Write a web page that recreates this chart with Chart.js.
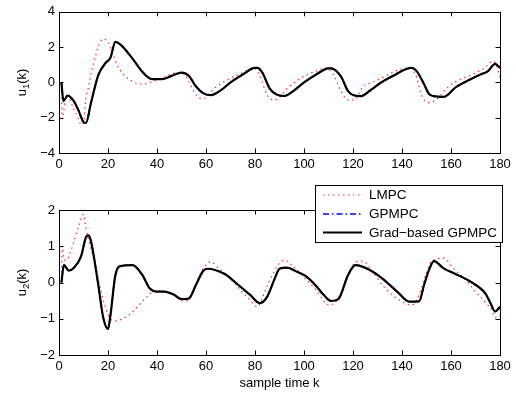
<!DOCTYPE html>
<html>
<head>
<meta charset="utf-8">
<script src="https://cdn.jsdelivr.net/npm/chart.js@4/dist/chart.umd.min.js"></script>
<style>
  body { margin: 0; background: #fff; }
  #wrap { position: relative; width: 516px; height: 397px; }
  canvas { position: absolute; left: 0; }
  #chartU1 { top: 0; }
  #chartU2 { top: 175px; }
</style>
</head>
<body>
<div id="wrap">
  <canvas id="chartU1" width="516" height="175"></canvas>
  <canvas id="chartU2" width="516" height="222"></canvas>
</div>
<script>
// u1(k): Grad-based GPMPC (GPMPC nearly identical)
const kGradU1 = [1, 1.8, 3.5, 6, 8, 10, 11, 13, 16, 19, 21, 23, 25, 30, 34, 38, 42, 46, 50, 53, 56, 59, 62, 66, 70, 75, 80, 81, 83, 86, 89, 92, 96, 100, 105, 110, 111, 115, 118, 120, 123, 127, 131, 136, 144, 146, 149, 151, 153, 157, 162, 168, 173, 175, 178, 180];
const gradU1 = [0, -1.06, -0.75, -1.05, -1.6, -2.25, -2.3, -1.2, 0.4, 1.1, 1.4, 2.3, 2.15, 1.35, 0.6, 0.18, 0.18, 0.37, 0.55, 0.37, -0.25, -0.62, -0.72, -0.45, 0.0, 0.45, 0.82, 0.82, 0.55, -0.35, -0.7, -0.77, -0.45, 0.0, 0.45, 0.8, 0.8, 0.35, -0.5, -0.72, -0.78, -0.46, -0.05, 0.35, 0.82, 0.64, -0.1, -0.65, -0.78, -0.82, -0.27, 0.18, 0.5, 0.62, 1.05, 0.82];

// u1(k): LMPC
const kLmpcU1 = [1, 1.3, 3, 4, 6, 8, 9, 10, 11, 12, 13, 15, 17, 18, 20, 22, 24, 26, 30, 34, 38, 42, 48, 50, 52, 55, 58, 60, 62, 64, 70, 75, 79, 80, 82, 85, 88, 90, 93, 98, 105, 109, 110, 112, 115, 118, 121, 124, 128, 132, 139, 143, 144, 146, 148, 151, 154, 159, 164, 169, 174, 177, 178, 180];
const lmpcU1 = [0, -2.05, -0.75, -0.85, -1.5, -2.1, -2.4, -2.3, -0.9, -0.3, 0.4, 1.55, 2.35, 2.45, 2.3, 1.6, 0.9, 0.5, 0.05, -0.1, 0.05, 0.24, 0.55, 0.55, 0.3, -0.5, -0.92, -0.85, -0.55, -0.27, 0.24, 0.55, 0.8, 0.78, 0.37, -0.73, -1.0, -0.85, -0.36, 0.18, 0.64, 0.82, 0.78, 0.46, -0.46, -1.0, -0.97, -0.24, 0.0, 0.27, 0.73, 0.82, 0.75, 0.27, -0.73, -1.15, -0.97, -0.24, 0.18, 0.46, 0.85, 1.19, 1.15, 0.27];

// u2(k): Grad-based GPMPC
const kGradU2 = [1, 2, 4, 6, 9, 11, 12, 13, 16, 18, 20, 21, 23, 25, 30, 34, 37, 40, 43, 47, 50, 53, 56, 59, 61, 64, 68, 72, 78, 82, 85, 88, 90, 93, 97, 101, 105, 108, 111, 114, 118, 121, 127, 132, 138, 143, 147, 149, 151, 153, 157, 162, 168, 174, 176, 178, 180];
const gradU2 = [0, 0.48, 0.33, 0.4, 0.72, 1.25, 1.3, 1.15, -0.05, -0.95, -1.28, -0.9, 0.2, 0.45, 0.48, 0.21, -0.16, -0.25, -0.25, -0.34, -0.46, -0.44, -0.05, 0.33, 0.38, 0.34, 0.22, 0.0, -0.34, -0.57, -0.39, 0.1, 0.38, 0.41, 0.3, 0.16, -0.1, -0.34, -0.51, -0.46, 0.21, 0.48, 0.34, 0.11, -0.25, -0.53, -0.52, -0.07, 0.34, 0.59, 0.39, 0.23, 0.02, -0.3, -0.55, -0.8, -0.67];

// u2(k): LMPC
const kLmpcU2 = [1, 1.3, 2.2, 3, 5, 6.5, 8, 10, 11, 13, 15, 17, 19, 21, 23, 26, 30, 32, 36, 39, 43, 47, 51, 53, 56, 58, 62, 65, 70, 74, 78, 81, 84, 87, 90, 92, 95, 101, 105, 110, 113, 116, 118, 121, 124, 127, 132, 136, 140, 144, 147, 149, 152, 157, 161, 166, 170, 175, 177, 178, 180];
const lmpcU2 = [0, 1.0, 0.62, 0.62, 0.9, 1.23, 1.54, 1.88, 1.5, 0.95, 0.45, -0.2, -0.7, -1.0, -1.06, -1.0, -0.82, -0.67, -0.39, -0.23, -0.25, -0.36, -0.52, -0.45, -0.05, 0.29, 0.57, 0.4, 0.12, -0.21, -0.48, -0.67, -0.25, 0.21, 0.53, 0.62, 0.48, 0.07, -0.21, -0.62, -0.53, -0.16, 0.16, 0.57, 0.59, 0.39, -0.07, -0.34, -0.53, -0.62, -0.34, 0.07, 0.57, 0.67, 0.39, 0.07, -0.25, -0.62, -0.8, -0.97, -0.9];

const seriesNames = ["LMPC", "GPMPC", "Grad\u2212based GPMPC"];
const xTicks = [0, 20, 40, 60, 80, 100, 120, 140, 160, 180];
const u1Ticks = [-4, -2, 0, 2, 4];
const u2Ticks = [-2, -1, 0, 1, 2];

const FONT = "'Liberation Sans', Arial, sans-serif";
const styles = [
  { borderColor: "#ff2a2a", borderWidth: 1.2, borderDash: [1.5, 3.5], order: 3 },
  { borderColor: "#0000ff", borderWidth: 1.5, borderDash: [6, 3, 1.5, 3], order: 2 },
  { borderColor: "#000000", borderWidth: 2.2, borderDash: [], order: 1 },
];

const pts = (ks, vs) => ks.map((k, i) => ({ x: k, y: vs[i] }));
const minus = (v) => String(v).replace("-", "\u2212");

// box, inward ticks and y label (MATLAB style)
const frame = {
  id: "frame",
  afterDraw(chart, args, opts) {
    const { ctx, chartArea: a, scales } = chart;
    const L = 4.5;
    ctx.save();
    ctx.strokeStyle = "#000";
    ctx.lineWidth = 1;
    ctx.strokeRect(Math.round(a.left) + 0.5, Math.round(a.top) + 0.5, Math.round(a.width), Math.round(a.height));
    ctx.beginPath();
    xTicks.forEach((t) => {
      const px = Math.round(scales.x.getPixelForValue(t)) + 0.5;
      ctx.moveTo(px, a.bottom); ctx.lineTo(px, a.bottom - L);
      ctx.moveTo(px, a.top); ctx.lineTo(px, a.top + L);
    });
    opts.yTicks.forEach((t) => {
      const py = Math.round(scales.y.getPixelForValue(t)) + 0.5;
      ctx.moveTo(a.left, py); ctx.lineTo(a.left + L, py);
      ctx.moveTo(a.right, py); ctx.lineTo(a.right - L, py);
    });
    ctx.stroke();

    // y label with subscript
    ctx.translate(22, (a.top + a.bottom) / 2);
    ctx.rotate(-Math.PI / 2);
    ctx.fillStyle = "#000";
    ctx.textBaseline = "middle";
    ctx.font = "13px " + FONT;
    const w1 = ctx.measureText("u").width;
    const w3 = ctx.measureText("(k)").width;
    ctx.font = "9.5px " + FONT;
    const w2 = ctx.measureText(opts.sub).width;
    const x0 = -(w1 + w2 + w3) / 2;
    ctx.font = "13px " + FONT;
    ctx.fillText("u", x0, 0);
    ctx.font = "9.5px " + FONT;
    ctx.fillText(opts.sub, x0 + w1, 4.5);
    ctx.font = "13px " + FONT;
    ctx.fillText("(k)", x0 + w1 + w2, 0);
    ctx.restore();
  },
};

// legend and x title on the lower plot
const legendBox = {
  id: "legendBox",
  afterDraw(chart) {
    const { ctx, chartArea: a } = chart;
    ctx.save();
    ctx.fillStyle = "#000";
    ctx.font = "13px " + FONT;
    ctx.textAlign = "center";
    ctx.textBaseline = "middle";
    ctx.fillText("sample time k", (a.left + a.right) / 2, 208);

    const bx = 315.5, by = 10.5, bw = 187, bh = 57;
    ctx.fillStyle = "#fff";
    ctx.fillRect(bx, by, bw, bh);
    ctx.strokeStyle = "#000";
    ctx.lineWidth = 1;
    ctx.strokeRect(bx, by, bw, bh);
    const rows = [20, 39, 57.5];
    ctx.font = "13.5px " + FONT;
    seriesNames.forEach((name, i) => {
      const s = styles[i];
      ctx.beginPath();
      ctx.strokeStyle = s.borderColor;
      ctx.lineWidth = s.borderWidth;
      ctx.setLineDash(s.borderDash);
      ctx.moveTo(323, rows[i]);
      ctx.lineTo(362, rows[i]);
      ctx.stroke();
      ctx.setLineDash([]);
      ctx.fillStyle = "#000";
      ctx.textAlign = "left";
      ctx.fillText(name, 369, rows[i] + 0.5);
    });
    ctx.restore();
  },
};

const makeChart = (el, lmpc, grad, yMin, yMax, yTicks, sub, padTop, xHeight, extra) =>
  new Chart(el, {
    type: "line",
    data: {
      datasets: [
        { label: seriesNames[0], data: lmpc, ...styles[0] },
        { label: seriesNames[1], data: grad, ...styles[1] },
        { label: seriesNames[2], data: grad, ...styles[2] },
      ],
    },
    options: {
      responsive: false,
      animation: false,
      devicePixelRatio: 1,
      layout: { padding: { left: 0, top: padTop, right: 16, bottom: 0 } },
      elements: { point: { radius: 0 }, line: { cubicInterpolationMode: "monotone" } },
      plugins: { legend: { display: false }, tooltip: { enabled: false }, frame: { yTicks: yTicks, sub: sub } },
      scales: {
        x: {
          type: "linear",
          min: 0,
          max: 180,
          grid: { display: false, drawTicks: false },
          border: { display: false },
          afterFit: (s) => { s.height = xHeight; },
          afterBuildTicks: (s) => { s.ticks = xTicks.map((v) => ({ value: v })); },
          ticks: { padding: 4, color: "#000", font: { family: FONT, size: 13 }, maxRotation: 0 },
        },
        y: {
          min: yMin,
          max: yMax,
          grid: { display: false, drawTicks: false },
          border: { display: false },
          afterFit: (s) => { s.width = 59; },
          afterBuildTicks: (s) => { s.ticks = yTicks.map((v) => ({ value: v })); },
          ticks: { padding: 4, color: "#000", font: { family: FONT, size: 13 }, callback: (v) => minus(v) },
        },
      },
    },
    plugins: [frame].concat(extra),
  });

makeChart(document.querySelector("#chartU1"), pts(kLmpcU1, lmpcU1), pts(kGradU1, gradU1), -4, 4, u1Ticks, "1", 7, 22, []);
makeChart(document.querySelector("#chartU2"), pts(kLmpcU2, lmpcU2), pts(kGradU2, gradU2), -2, 2, u2Ticks, "2", 35, 42, [legendBox]);
</script>
</body>
</html>
